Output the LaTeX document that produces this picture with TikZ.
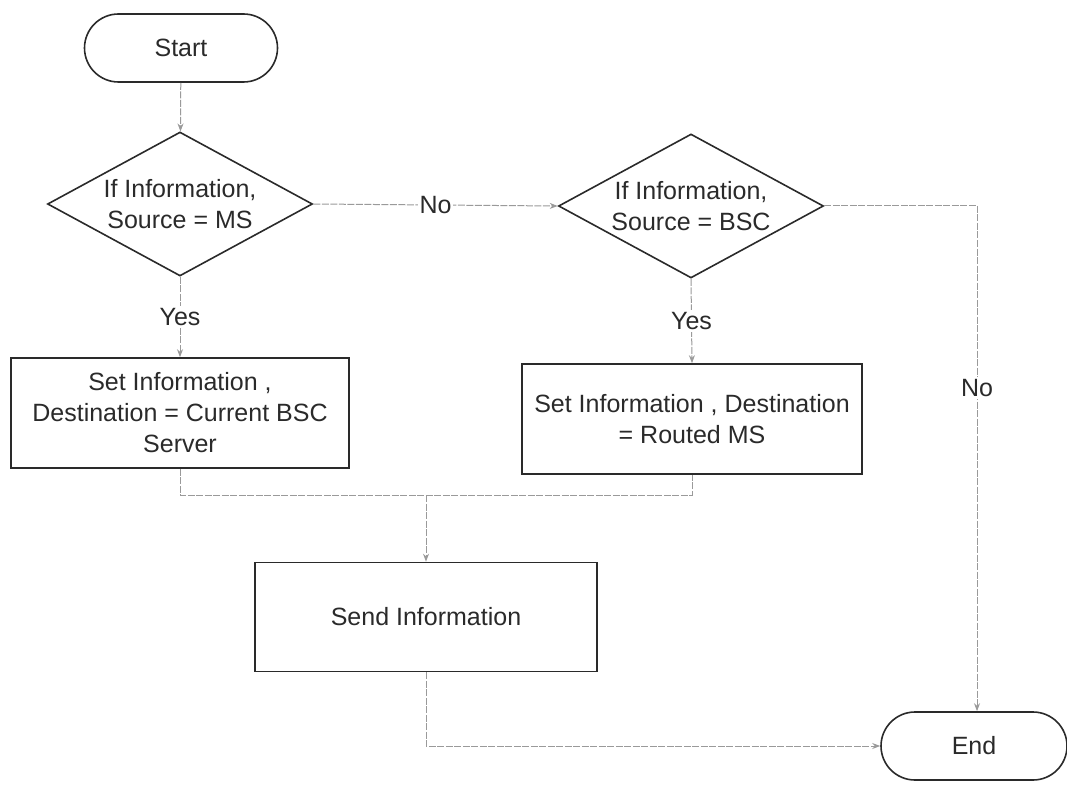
\documentclass[tikz,border=0pt]{standalone}
\usepackage{fontspec}
\setmainfont{Liberation Sans}
\usetikzlibrary{shapes.geometric,arrows.meta}

\definecolor{ink}{HTML}{2A2A2A}
\definecolor{wire}{HTML}{9A9A9A}

\tikzset{
  every node/.style={font=\fontsize{25pt}{31pt}\selectfont, text=ink},
  terminal/.style={draw=ink, line width=1.6pt, rectangle, rounded corners=34pt,
                   minimum width=#1, minimum height=68pt, inner sep=0pt},
  decision/.style={draw=ink, line width=1.6pt, diamond, inner sep=0pt,
                   minimum width=265pt, minimum height=144pt},
  process/.style={draw=ink, line width=1.6pt, rectangle, inner sep=0pt,
                  align=center},
  txt/.style={align=center, inner sep=0pt},
  lbl/.style={fill=white, inner sep=2pt},
  conn/.style={draw=wire, line width=1pt, dash pattern=on 7pt off 1.5pt},
  flow/.style={conn, -{Stealth[length=8pt,width=6pt]}},
}

\begin{document}
\begin{tikzpicture}[x=1pt,y=-1pt]
  \useasboundingbox (0,0) rectangle (1067,786);

  % terminals
  \node[terminal=193pt] (start) at (181,48) {Start};
  \node[terminal=186pt] (stop) at (974,746) {End};

  % decisions
  \node[decision] (d1) at (180,204) {};
  \node[txt] (d1t) at (180,204) {If Information,\\Source = MS};
  \node[decision] (d2) at (691,206) {};
  \node[txt] (d2t) at (691,206) {If Information,\\Source = BSC};

  % process boxes
  \node[process, minimum width=338pt, minimum height=110pt] (b1) at (180,413)
    {Set Information ,\\Destination = Current BSC\\Server};
  \node[process, minimum width=340pt, minimum height=110pt] (b2) at (692,419)
    {Set Information , Destination\\= Routed MS};
  \node[process, minimum width=342pt, minimum height=109pt] (b3) at (426,617)
    {Send Information};

  % junction points of the connectors
  \coordinate (jl) at (180,495);
  \coordinate (jr) at (692,495);
  \coordinate (jm) at (426,495);
  \coordinate (c1) at (977,206);
  \coordinate (c2) at (426,746);

  % connectors
  \draw[flow] (start) -- (d1);
  \draw[flow] (d1.east) -- node[lbl, midway] {No} (d2.west);
  \draw[flow] (d1.south) -- node[lbl, midway] {Yes} (b1.north);
  \draw[flow] (d2.south) -- node[lbl, midway] {Yes} (b2.north);
  \draw[conn] (d2.east) -- (c1);
  \draw[flow] (c1) -- node[lbl, pos=0.36] {No} (c1 |- stop.north);
  \draw[conn] (b1.south) -- (jl) -- (jr) -- (b2.south);
  \draw[flow] (jm) -- (b3.north);
  \draw[flow] (b3.south) -- (c2) -- (stop.west);
\end{tikzpicture}
\end{document}
